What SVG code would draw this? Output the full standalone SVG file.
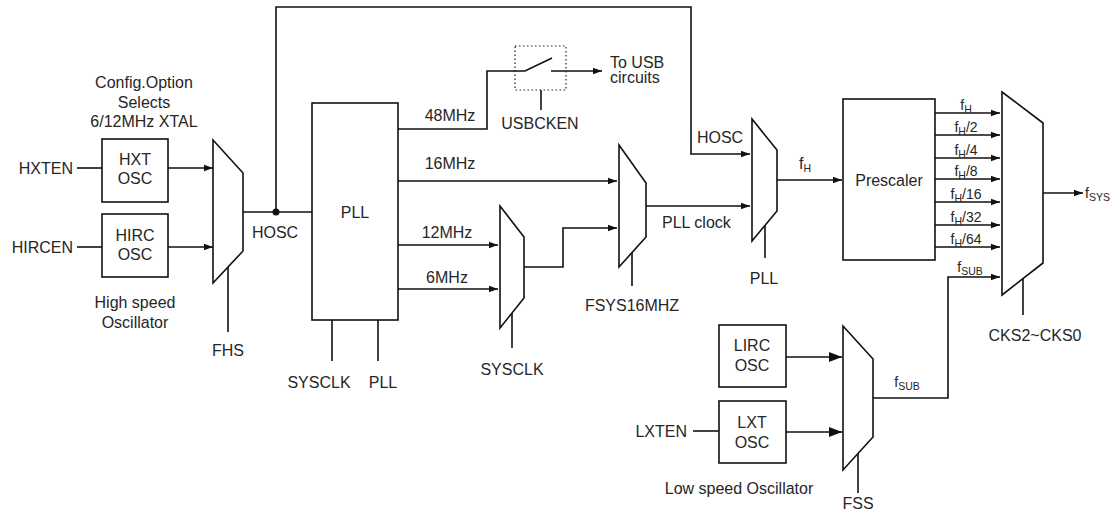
<svg xmlns="http://www.w3.org/2000/svg" width="1115" height="512" viewBox="0 0 1115 512">
<style>
text{font-family:"Liberation Sans",Arial,sans-serif;font-size:16px;fill:#262626}
.m{text-anchor:middle}
.e{text-anchor:end}
.s{font-size:14px}
.sub{font-size:10.5px}
.box{fill:#fff;stroke:#111;stroke-width:1.6}
.ln{fill:none;stroke:#111;stroke-width:1.6}
.ar{fill:none;stroke:#111;stroke-width:1.6;marker-end:url(#a)}
.arb{fill:none;stroke:#111;stroke-width:1.6;marker-end:url(#b)}
</style>
<defs>
<marker id="a" markerUnits="userSpaceOnUse" markerWidth="10" markerHeight="8" refX="9" refY="4" orient="auto"><path d="M0,0.8 L9,4 L0,7.2 Z" fill="#111"/></marker>
<marker id="b" markerUnits="userSpaceOnUse" markerWidth="14" markerHeight="12" refX="13" refY="6" orient="auto"><path d="M0,1 L13,6 L0,11 Z" fill="#111"/></marker>
</defs>
<rect width="1115" height="512" fill="#fff"/>

<g id="connectors">
<path class="ln" d="M77,168 H102"/>
<path class="ar" d="M168,168 H213"/>
<path class="ln" d="M77,247 H102"/>
<path class="ar" d="M168,247 H213"/>
<path class="ln" d="M243,212 H312"/>
<path class="ar" d="M276,212 V7 H691 V154 H750"/>
<path class="ln" d="M398,129 H487 V71 H525 L552,58"/>
<path class="ar" d="M551,71 H602"/>
<path class="ln" d="M541,90 V110"/>
<path class="ar" d="M398,181 H617"/>
<path class="ar" d="M398,245 H498"/>
<path class="ar" d="M398,289 H498"/>
<path class="ar" d="M524,267 H563 V228 H617"/>
<path class="ar" d="M646,206 H750"/>
<path class="ar" d="M777,180 H842"/>
<path class="ar" d="M935,113 H1000"/>
<path class="ar" d="M935,135 H1000"/>
<path class="ar" d="M935,158 H1000"/>
<path class="ar" d="M935,179 H1000"/>
<path class="ar" d="M935,202 H1000"/>
<path class="ar" d="M935,225 H1000"/>
<path class="ar" d="M935,247 H1000"/>
<path class="ar" d="M873,398 H948 V277 H1000"/>
<path class="ar" d="M1043,193 H1083"/>
<path class="arb" d="M786,357 H842"/>
<path class="arb" d="M786,432 H842"/>
<path class="ln" d="M693,431 H719"/>
<path class="ln" d="M332,320 V361 M378,320 V361"/>
<path class="ln" d="M228,267 V332"/>
<path class="ln" d="M512,313 V348"/>
<path class="ln" d="M632,252 V286"/>
<path class="ln" d="M765,225 V258"/>
<path class="ln" d="M1023,278 V315"/>
<path class="ln" d="M858,453 V493"/>
<circle cx="276" cy="212" r="3.5" fill="#111"/>
</g>

<g id="config-note">
<text class="m" x="144" y="88">Config.Option</text>
<text class="m" x="144" y="108">Selects</text>
<text class="m" x="144" y="127">6/12MHz XTAL</text>
</g>
<g id="hxten"><text class="e" x="73" y="174">HXTEN</text></g>
<g id="hircen"><text class="e" x="73" y="253">HIRCEN</text></g>
<g id="hxt-osc">
<rect class="box" x="102" y="139" width="66" height="63"/>
<text class="m" x="135" y="165">HXT</text>
<text class="m" x="135" y="184">OSC</text>
</g>
<g id="hirc-osc">
<rect class="box" x="102" y="214" width="66" height="63"/>
<text class="m" x="135" y="241">HIRC</text>
<text class="m" x="135" y="260">OSC</text>
</g>
<g id="high-speed-label">
<text class="m" x="135" y="308">High speed</text>
<text class="m" x="135" y="328">Oscillator</text>
</g>
<g id="mux-fhs">
<polygon class="box" points="213,140 243,173 243,251 213,283"/>
<text class="m" x="228" y="356">FHS</text>
</g>
<g id="hosc-label"><text class="m" x="275" y="238">HOSC</text></g>
<g id="pll">
<rect class="box" x="312" y="103" width="86" height="217"/>
<text class="m" x="355" y="218">PLL</text>
<text class="m" x="450" y="121">48MHz</text>
<text class="m" x="450" y="169">16MHz</text>
<text class="m" x="447" y="238">12MHz</text>
<text class="m" x="447" y="283">6MHz</text>
<text class="m" x="319" y="388">SYSCLK</text>
<text class="m" x="383" y="388">PLL</text>
</g>
<g id="usb-switch">
<rect x="515" y="46" width="51" height="44" fill="none" stroke="#222" stroke-width="1.2" stroke-dasharray="1.5,2.5"/>
<text class="m" x="540" y="129">USBCKEN</text>
<text x="610" y="68">To USB</text>
<text x="610" y="83">circuits</text>
</g>
<g id="mux-sysclk">
<polygon class="box" points="500,206 524,237 524,298 500,328"/>
<text class="m" x="512" y="375">SYSCLK</text>
</g>
<g id="mux-fsys16mhz">
<polygon class="box" points="619,145 646,183 646,237 619,267"/>
<text class="m" x="632" y="311">FSYS16MHZ</text>
<text x="662" y="228">PLL clock</text>
</g>
<g id="mux-pll">
<polygon class="box" points="752,119 777,150 777,211 752,241"/>
<text class="m" x="720" y="143">HOSC</text>
<text class="m" x="764" y="284">PLL</text>
<text class="m" x="805" y="169">f<tspan class="sub" dy="3">H</tspan></text>
</g>
<g id="prescaler">
<rect class="box" x="843" y="99" width="92" height="161"/>
<text class="m" x="889" y="186">Prescaler</text>
<text class="m s" x="966" y="110">f<tspan class="sub" dy="3">H</tspan></text>
<text class="m s" x="966" y="132">f<tspan class="sub" dy="3">H</tspan><tspan dy="-3">/2</tspan></text>
<text class="m s" x="966" y="155">f<tspan class="sub" dy="3">H</tspan><tspan dy="-3">/4</tspan></text>
<text class="m s" x="966" y="176">f<tspan class="sub" dy="3">H</tspan><tspan dy="-3">/8</tspan></text>
<text class="m s" x="966" y="199">f<tspan class="sub" dy="3">H</tspan><tspan dy="-3">/16</tspan></text>
<text class="m s" x="966" y="222">f<tspan class="sub" dy="3">H</tspan><tspan dy="-3">/32</tspan></text>
<text class="m s" x="966" y="244">f<tspan class="sub" dy="3">H</tspan><tspan dy="-3">/64</tspan></text>
<text class="m s" x="970" y="272">f<tspan class="sub" dy="3">SUB</tspan></text>
</g>
<g id="mux-cks">
<polygon class="box" points="1002,92 1043,123 1043,263 1002,295"/>
<text class="m" x="1035" y="341">CKS2~CKS0</text>
<text class="s" x="1085" y="198">f<tspan class="sub" dy="3">SYS</tspan></text>
</g>
<g id="lirc-osc">
<rect class="box" x="719" y="325" width="67" height="62"/>
<text class="m" x="752" y="351">LIRC</text>
<text class="m" x="752" y="371">OSC</text>
</g>
<g id="lxt-osc">
<rect class="box" x="719" y="401" width="67" height="62"/>
<text class="m" x="752" y="428">LXT</text>
<text class="m" x="752" y="448">OSC</text>
</g>
<g id="lxten"><text class="e" x="687" y="437">LXTEN</text></g>
<g id="low-speed-label"><text class="m" x="739" y="494">Low speed Oscillator</text></g>
<g id="mux-fss">
<polygon class="box" points="843,326 873,359 873,437 843,470"/>
<text class="m" x="858" y="509">FSS</text>
<text class="m s" x="907" y="387">f<tspan class="sub" dy="3">SUB</tspan></text>
</g>
</svg>
